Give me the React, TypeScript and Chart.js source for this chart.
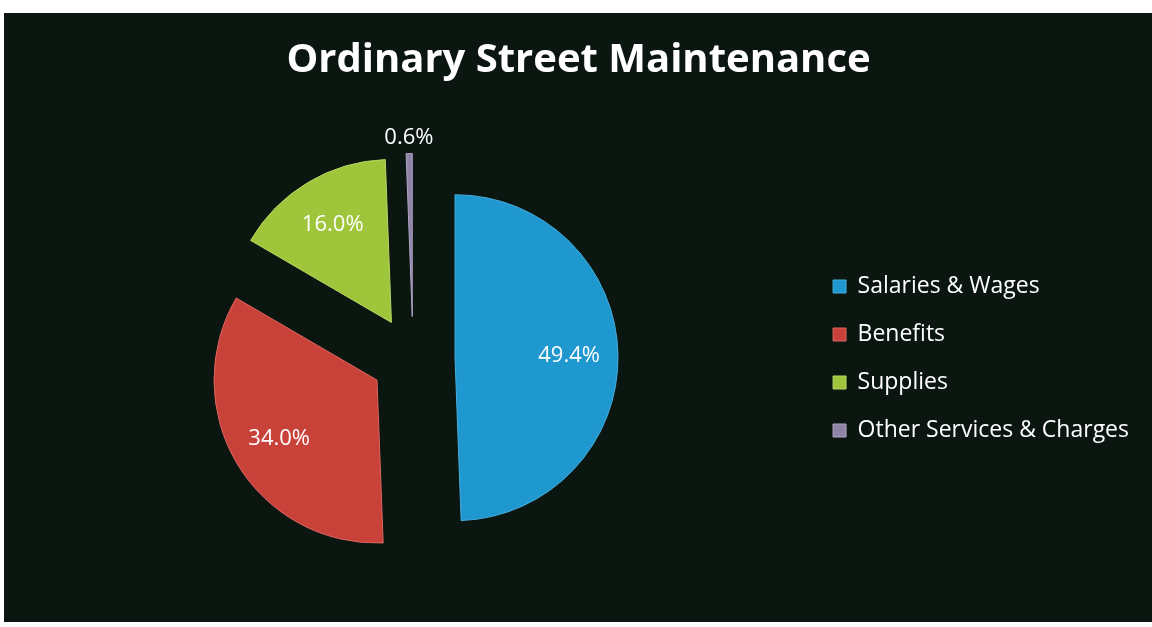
import { useEffect, useRef } from "react";
import { Chart, registerables } from "chart.js";

Chart.register(...registerables);

const categories = ["Salaries & Wages", "Benefits", "Supplies", "Other Services & Charges"];
const shares = [49.4, 34.0, 16.0, 0.6];
const sliceColors = ["#1f97cf", "#c9423a", "#9fc63b", "#8f83a8"];
const sliceRims = ["#45aedd", "#dc6660", "#b7d665", "#b0a6c6"];
const titleText = "Ordinary Street Maintenance";

const EXPLODE = 42;
const RADIUS = 163;

const explodePlugin = {
  id: "explode",
  afterDatasetsUpdate(chart: any) {
    const meta = chart.getDatasetMeta(0);
    meta.data.forEach((arc: any) => {
      const mid = (arc.startAngle + arc.endAngle) / 2;
      arc.x += Math.cos(mid) * EXPLODE;
      arc.y += Math.sin(mid) * EXPLODE;
    });
  },
};

const labelPlugin = {
  id: "sliceLabels",
  afterDatasetsDraw(chart: any) {
    const ctx = chart.ctx;
    const meta = chart.getDatasetMeta(0);
    ctx.save();
    ctx.fillStyle = "#ffffff";
    ctx.font = "22px 'Open Sans'";
    ctx.textAlign = "center";
    ctx.textBaseline = "middle";
    meta.data.forEach((arc: any, i: number) => {
      const mid = (arc.startAngle + arc.endAngle) / 2;
      const v = shares[i];
      const dist = v < 2 ? arc.outerRadius + 16 : arc.outerRadius * 0.7;
      const x = arc.x + Math.cos(mid) * dist;
      const y = arc.y + Math.sin(mid) * dist;
      ctx.fillText(v.toFixed(1) + "%", x, y);
    });
    ctx.restore();
  },
};

export default function App() {
  const ref = useRef<HTMLCanvasElement | null>(null);
  useEffect(() => {
    if (!ref.current) return;
    const chart = new Chart(ref.current, {
      type: "pie",
      data: {
        labels: categories,
        datasets: [
          {
            data: shares,
            backgroundColor: sliceColors,
            borderColor: sliceRims,
            borderWidth: 1,
          },
        ],
      },
      options: {
        animation: false,
        responsive: true,
        maintainAspectRatio: false,
        events: [],
        radius: RADIUS,
        layout: { padding: { left: 14, right: 13, top: 0, bottom: -2 } },
        plugins: {
          title: {
            display: true,
            text: titleText,
            color: "#ffffff",
            font: { family: "'Open Sans'", size: 40, weight: "bold" },
            padding: { top: 24, bottom: 10 },
          },
          legend: {
            position: "right",
            fullSize: false,
            labels: {
              color: "#ffffff",
              font: { family: "'Open Sans'", size: 23 },
              boxWidth: 13,
              boxHeight: 13,
              padding: 25,
              generateLabels(chart: any) {
                return categories.map((c, i) => ({
                  text: c,
                  fillStyle: sliceColors[i],
                  strokeStyle: sliceRims[i],
                  lineWidth: 1,
                  fontColor: "#ffffff",
                  hidden: false,
                  index: i,
                }));
              },
            },
          },
          tooltip: { enabled: false },
        },
      } as any,
      plugins: [explodePlugin, labelPlugin],
    });
    return () => chart.destroy();
  }, []);

  return (
    <div style={{ position: "absolute", left: 0, top: 0, width: 1152, height: 627, background: "#ffffff", overflow: "hidden" }}>
      <div style={{ position: "absolute", left: 4, top: 13, width: 1148, height: 609, background: "#0b1611" }}>
        <canvas ref={ref} style={{ display: "block" }} />
      </div>
    </div>
  );
}
